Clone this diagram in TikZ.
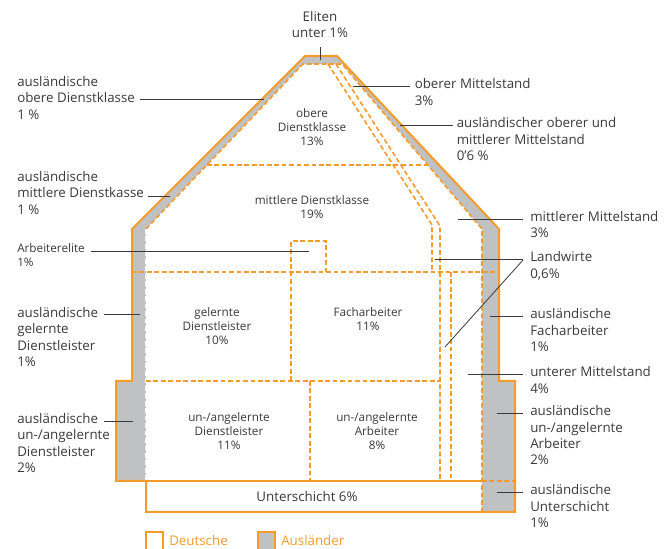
\documentclass[tikz,border=0pt]{standalone}
\usepackage{fontspec}
\setmainfont{Open Sans}
\definecolor{hausorange}{HTML}{F39C2C}
\definecolor{hausgrau}{HTML}{C0C1C3}
\definecolor{schrift}{HTML}{3A3A3A}

\begin{document}
\begin{tikzpicture}[x=0.75pt, y=-0.75pt,
  wand/.style={draw=hausorange, line width=1.5pt},
  grenze/.style={draw=hausorange, line width=1.2pt, dash pattern=on 3.6pt off 2pt},
  aussen/.style={font=\fontsize{10}{12.25}\selectfont, text=schrift, align=left, inner sep=0pt},
  innen/.style={font=\fontsize{8.8}{10.5}\selectfont, text=schrift, align=center, inner sep=0pt},
  zeiger/.style={draw=schrift, line width=0.75pt}]

\useasboundingbox (0,0) rectangle (669,549);

% Haus mit grauem Rand (Auslaender)
\fill[hausgrau] (146,512) -- (146,481) -- (116,481) -- (116,381) -- (132,381) -- (132,229) -- (305,56) -- (337,56) -- (499,229) -- (499,381) -- (515,381) -- (515,512) -- cycle;
\fill[white] (146,512) -- (146,229) -- (303,64) -- (342,64) -- (482,229) -- (482,512) -- cycle;
\draw[grenze] (146,229) -- (303,64) -- (342,64) -- (482,229) -- (482,512);
\draw[grenze, draw=white] (146,229) -- (146,481);

% Landwirte (schmaler Streifen)
\draw[grenze] (328,64) -- (432,225) -- (432,272);
\draw[grenze] (336,64) -- (440,226) -- (440,481);
\draw[grenze] (451,272) -- (451,481);

% Stockwerke
\draw[grenze] (207,165) -- (428,165);
\draw[grenze] (132,272) -- (499,272);
\draw[grenze] (146,381) -- (440,381);
\draw[grenze] (482,481) -- (515,481);
\draw[grenze] (291,381) -- (291,241) -- (326,241) -- (326,272);
\draw[grenze] (310,381) -- (310,481);

% Unterschicht und Aussenwand
\draw[hausorange, line width=1.1pt] (146,481) -- (482,481);
\draw[wand] (146,512) -- (146,481) -- (116,481) -- (116,381) -- (132,381) -- (132,229) -- (305,56) -- (337,56) -- (499,229) -- (499,381) -- (515,381) -- (515,512) -- cycle;

% Beschriftung innen
\node[innen, anchor=north] (odk) at (312,108) {obere\\Dienstklasse\\13\%};
\node[innen, anchor=north] (mdk) at (312,195) {mittlere Dienstklasse\\19\%};
\node[innen, anchor=north] (gdl) at (217,307) {gelernte\\Dienstleister\\10\%};
\node[innen, anchor=north] (fab) at (368,307) {Facharbeiter\\11\%};
\node[innen, anchor=north] (udl) at (229,412) {un-/angelernte\\Dienstleister\\11\%};
\node[innen, anchor=north] (uab) at (377,412) {un-/angelernte\\Arbeiter\\8\%};
\node[aussen] (usch) at (307,497) {Unterschicht 6\%};

% Beschriftung oben
\node[aussen, align=center, anchor=north] (eliten) at (320,11) {Eliten\\unter 1\%};
\coordinate (pEL) at (320,60);
\draw[zeiger] ([shift={(0,36)}]eliten.north) -- (pEL);

% Beschriftung links
\node[aussen, anchor=north west] (lOD) at (17,76) {ausländische\\obere Dienstklasse\\1 \%};
\coordinate (pOD) at (264,100);
\draw[zeiger] ([shift={(123,24)}]lOD.north west) -- (pOD);

\node[aussen, anchor=north west] (lMD) at (17,171) {ausländische\\mittlere Dienstkasse\\1 \%};
\coordinate (pMD) at (170,196.5);
\draw[zeiger] ([shift={(131,25.5)}]lMD.north west) -- (pMD);

\node[innen, align=left, anchor=north west] (lAE) at (17,243) {Arbeiterelite\\1\%};
\coordinate (pAE) at (309,252);
\draw[zeiger] ([shift={(74,9)}]lAE.north west) -- (pAE);

\node[aussen, anchor=north west] (lGD) at (17,307) {ausländische\\gelernte\\Dienstleister\\1\%};
\coordinate (pGD) at (140,315);
\draw[zeiger] ([shift={(87,8)}]lGD.north west) -- (pGD);

\node[aussen, anchor=north west] (lAUD) at (17,413) {ausländische\\un-/angelernte\\Dienstleister\\2\%};
\coordinate (pAUD) at (133,422);
\draw[zeiger] ([shift={(87,9)}]lAUD.north west) -- (pAUD);

% Beschriftung rechts
\node[aussen, anchor=north west] (rOM) at (414.5,78.5) {oberer Mittelstand\\3\%};
\coordinate (pOM) at (353,87);
\draw[zeiger] ([shift={(-4.5,8.5)}]rOM.north west) -- (pOM);

\node[aussen, anchor=north west] (rAOM) at (456.5,117.5) {ausländischer oberer und\\mittlerer Mittelstand\\0'6 \%};
\coordinate (pAOM) at (400,126);
\draw[zeiger] ([shift={(-3.5,8.5)}]rAOM.north west) -- (pAOM);

\node[aussen, anchor=north west] (rMM) at (530,211) {mittlerer Mittelstand\\3\%};
\coordinate (pMM) at (458,219.5);
\draw[zeiger] ([shift={(-7,8.5)}]rMM.north west) -- (pMM);

\node[aussen, anchor=north west] (rLW) at (530,251.5) {Landwirte\\0,6\%};
\coordinate (pLW1) at (435,260);
\coordinate (pLW2) at (445,347);
\draw[zeiger] ([shift={(-7,8.5)}]rLW.north west) -- (pLW1);
\draw[zeiger, line width=0.6pt] ([shift={(-7,8.5)}]rLW.north west) -- (pLW2);

\node[aussen, anchor=north west] (rAF) at (530,308.5) {ausländische\\Facharbeiter\\1\%};
\coordinate (pAF) at (490,317);
\draw[zeiger] ([shift={(-7,8.5)}]rAF.north west) -- (pAF);

\node[aussen, anchor=north west] (rUM) at (530,366.5) {unterer Mittelstand\\4\%};
\coordinate (pUM) at (468,375);
\draw[zeiger] ([shift={(-7,8.5)}]rUM.north west) -- (pUM);

\node[aussen, anchor=north west] (rAUA) at (530,405.5) {ausländische\\un-/angelernte\\Arbeiter\\2\%};
\coordinate (pAUA) at (497,414);
\draw[zeiger] ([shift={(-7,8.5)}]rAUA.north west) -- (pAUA);

\node[aussen, anchor=north west] (rAU) at (530,484.5) {ausländische\\Unterschicht\\1\%};
\coordinate (pAU) at (497,493);
\draw[zeiger] ([shift={(-7,8.5)}]rAU.north west) -- (pAU);

% Legende
\draw[hausorange, line width=1.5pt, fill=white] (146,532.5) rectangle (163,556);
\node[aussen, text=hausorange, anchor=north west] (ldeu) at (169,535.5) {Deutsche};
\draw[hausorange, line width=1.5pt, fill=hausgrau] (258,532.5) rectangle (275,556);
\node[aussen, text=hausorange, anchor=north west] (laus) at (281,535.5) {Ausländer};

\end{tikzpicture}
\end{document}
